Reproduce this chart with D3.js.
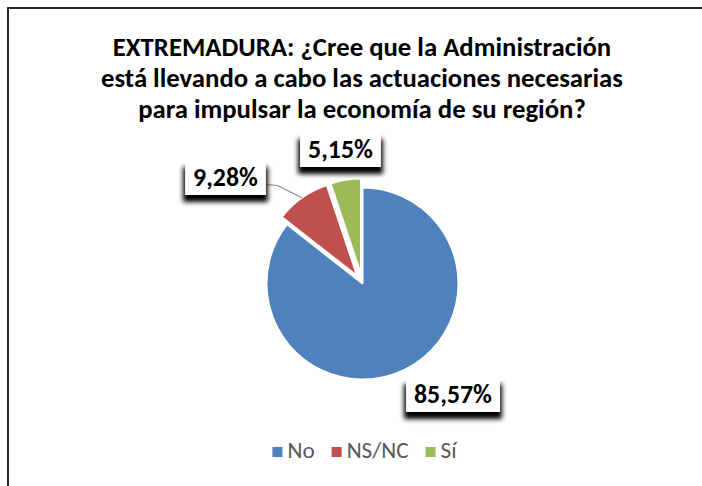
<!DOCTYPE html>
<html><head><meta charset="utf-8">
<script src="https://cdn.jsdelivr.net/npm/d3@7"></script>
<style>body{margin:0;background:#fff}</style>
</head><body>
<svg id="chart" width="702" height="486"></svg>
<script>
// ---- data ----
const categories = ["No", "NS/NC", "Sí"];
const values = [85.57, 9.28, 5.15];
const valueLabels = ["85,57%", "9,28%", "5,15%"];
const titleLines = [
  "EXTREMADURA: ¿Cree que la Administración",
  "está llevando a cabo las actuaciones necesarias",
  "para impulsar la economía de su región?"
];

// ---- layout / style ----
const colors = ["#4F81BD", "#C0504D", "#9BBB59"];
const explode = [0, 9, 9];
const labelOffsets = [[90.5, 111], [-137, -106], [-22, -134]]; // label centres relative to pie centre
const cx = 362.5, cy = 283.5, R = 96;
const FONT = "Carlito, Calibri, Lato, 'Open Sans', sans-serif";

const svg = d3.select("#chart");
svg.append("rect").attr("x", 0).attr("y", 0).attr("width", 702).attr("height", 486).attr("fill", "#fff");
// chart frame (only top and left are visible)
svg.append("rect").attr("x", 8).attr("y", 8).attr("width", 900).attr("height", 900)
  .attr("fill", "none").attr("stroke", "#111").attr("stroke-width", 1.8);

const defs = svg.append("defs");
defs.append("filter").attr("id", "blur").attr("x", "-30%").attr("y", "-30%").attr("width", "160%").attr("height", "190%")
  .append("feGaussianBlur").attr("stdDeviation", 2.4);

function fitWidth(sel, target) {
  const w = sel.node().getComputedTextLength();
  const fs = parseFloat(sel.attr("font-size"));
  return fs * target / w;
}

// ---- title ----
const title = svg.append("g").attr("font-family", FONT).attr("font-weight", "bold").attr("fill", "#000").attr("text-anchor", "middle");
const tl = title.selectAll("text").data(titleLines).join("text")
  .attr("x", 362).attr("y", (d, i) => 56 + i * 31).attr("font-size", 20).text(d => d);
const tfs = fitWidth(d3.select(tl.nodes()[1]), 522);
tl.attr("font-size", tfs);

// ---- pie ----
const pie = d3.pie().sort(null).value(d => d)(values);
const arc = d3.arc().innerRadius(0).outerRadius(R);
const g = svg.append("g").attr("transform", `translate(${cx},${cy})`);
g.selectAll("path").data(pie).join("path")
  .attr("transform", (d, i) => {
    const a = (d.startAngle + d.endAngle) / 2;
    return `translate(${explode[i] * Math.sin(a)},${-explode[i] * Math.cos(a)})`;
  })
  .attr("d", arc)
  .attr("fill", (d, i) => colors[i])
  .attr("stroke", "#fff").attr("stroke-width", 2).attr("stroke-linejoin", "round");

// leader line for NS/NC label
{
  const d = pie[1];
  const a = (d.startAngle + d.endAngle) / 2;
  const ex = cx + explode[1] * Math.sin(a) + R * Math.sin(a);
  const ey = cy - explode[1] * Math.cos(a) - R * Math.cos(a);
  const lx = cx + labelOffsets[1][0] + 41, ly = cy + labelOffsets[1][1] + 7;
  svg.append("polyline").attr("points", `${lx},${ly} ${lx + 11},${ly + 1} ${ex},${ey}`)
    .attr("fill", "none").attr("stroke", "#8c8c8c").attr("stroke-width", 1.2);
}

// ---- data labels ----
const lg = svg.append("g").attr("font-family", FONT).attr("font-weight", "bold");
const tmp = lg.append("text").attr("font-size", 20).text(valueLabels[0]);
const lfs = fitWidth(tmp, 78);
tmp.remove();
valueLabels.forEach((lab, i) => {
  const x = cx + labelOffsets[i][0], y = cy + labelOffsets[i][1];
  const t = lg.append("text").attr("font-size", lfs).attr("text-anchor", "middle").attr("x", x).attr("y", y + lfs * 0.33).text(lab);
  const w = t.node().getComputedTextLength() + 16, h = 35;
  lg.insert("rect", "text").attr("x", x - w / 2 - 2).attr("y", y - h / 2 + 7).attr("width", w + 4).attr("height", h)
    .attr("fill", "#000").attr("filter", "url(#blur)");
  lg.insert("rect", "text").attr("x", x - w / 2).attr("y", y - h / 2).attr("width", w).attr("height", h).attr("fill", "#fff");
});

// ---- legend ----
const leg = svg.append("g").attr("font-family", FONT).attr("font-size", 20).attr("fill", "#595959");
const probe = leg.append("text").attr("font-size", 20).text("NS/NC");
const legfs = fitWidth(probe, 62);
probe.remove();
let items = [];
let xPos = 0;
categories.forEach((c, i) => {
  const it = leg.append("g");
  it.append("rect").attr("x", 0).attr("y", -11).attr("width", 10).attr("height", 10).attr("fill", colors[i]);
  const t = it.append("text").attr("x", 15).attr("y", 0).attr("font-size", legfs).text(c);
  const w = 15 + t.node().getComputedTextLength();
  items.push({it, x: xPos});
  xPos += w + 17;
});
const total = xPos - 17;
const startX = 364.5 - total / 2;
items.forEach(o => o.it.attr("transform", `translate(${startX + o.x},458)`));
</script>
</body></html>
